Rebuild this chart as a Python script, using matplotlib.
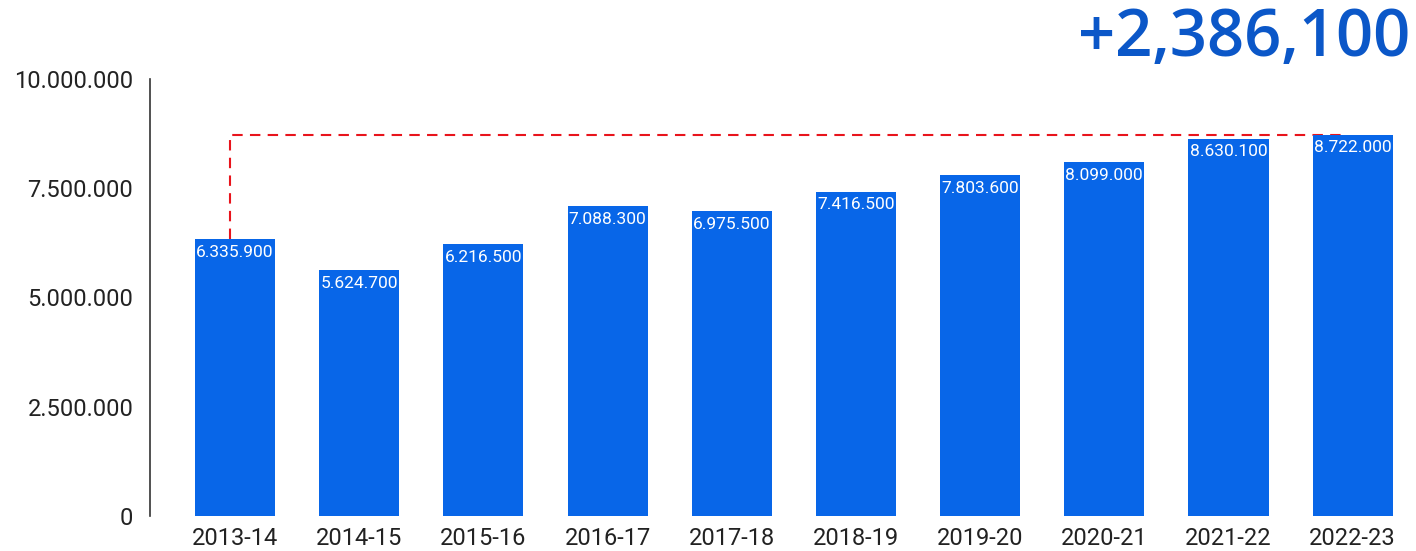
import matplotlib.pyplot as plt
import numpy as np

years = ["2013-14", "2014-15", "2015-16", "2016-17", "2017-18",
         "2018-19", "2019-20", "2020-21", "2021-22", "2022-23"]
values = [6335900, 5624700, 6216500, 7088300, 6975500,
          7416500, 7803600, 8099000, 8630100, 8722000]
yticks = [0, 2500000, 5000000, 7500000, 10000000]
headline = "+2,386,100"

BAR_COLOR = "#0866e8"
HEAD_COLOR = "#0b57c8"

plt.rcParams["font.family"] = ["Roboto", "DejaVu Sans"]


def dotted(v: int) -> str:
    return f"{v:,}".replace(",", ".")


fig = plt.figure(figsize=(14.16, 5.51), dpi=100)
ax = fig.add_axes([150 / 1416, 35 / 551, 1266 / 1416, 437 / 551])

x = np.arange(len(years))
ax.bar(x, values, width=0.645, color=BAR_COLOR, zorder=2)

for xi, v in zip(x, values):
    ax.annotate(dotted(v), (xi, v), xytext=(0, -4), textcoords="offset points",
                ha="center", va="top", color="white", fontsize=12.5, zorder=3)

# dashed guide from first bar up to the last bar level
x0, x1 = x[0] - 0.04, x[-1] - 0.05
ax.plot([x0, x0, x1], [values[0], values[-1], values[-1]],
        color="#e8141c", linestyle=(0, (5, 3.5)), linewidth=1.5, zorder=1)

ax.set_ylim(0, 10000000)
ax.set_xlim(-0.685, 9.51)
ax.set_yticks(yticks)
ax.set_yticklabels([dotted(t) for t in yticks])
ax.set_xticks(x)
ax.set_xticklabels(years)
ax.tick_params(axis="y", length=0, labelsize=17, pad=12, colors="#222222")
ax.tick_params(axis="x", length=0, labelsize=17, pad=8, colors="#222222")

for side in ("top", "right", "bottom"):
    ax.spines[side].set_visible(False)
ax.spines["left"].set_color("#333333")
ax.spines["left"].set_linewidth(1.2)

fig.text(1410 / 1416, 1 - 40 / 551, headline, ha="right", va="center",
         fontsize=47, fontweight="semibold", color=HEAD_COLOR,
         family=["Open Sans", "DejaVu Sans"])

fig.savefig("out.png", dpi=100)
